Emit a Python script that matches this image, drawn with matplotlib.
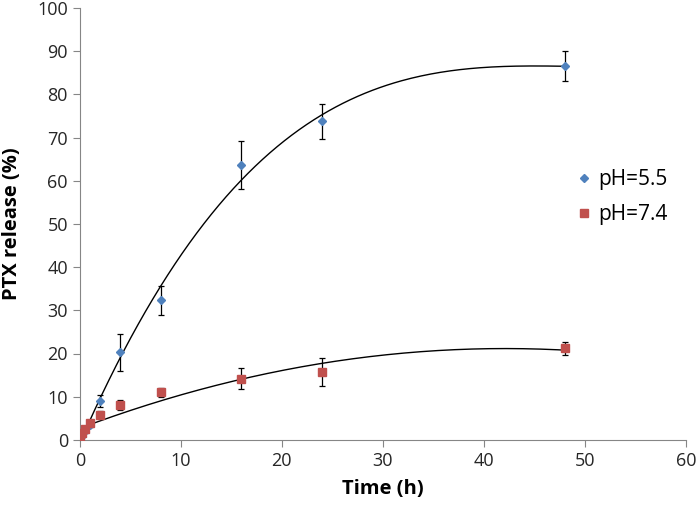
import numpy as np
import matplotlib.pyplot as plt

plt.rcParams["font.family"] = ["Open Sans", "DejaVu Sans"]

time_h = [0, 0.25, 0.5, 1, 2, 4, 8, 16, 24, 48]
ph55 = [0.3, 1.0, 2.0, 3.5, 9.0, 20.3, 32.3, 63.7, 73.8, 86.6]
ph55_err = [0.3, 0.3, 0.4, 0.5, 1.5, 4.3, 3.3, 5.5, 4.1, 3.4]
ph74 = [0.5, 1.5, 2.5, 3.8, 5.8, 8.0, 11.0, 14.2, 15.7, 21.2]
ph74_err = [0.3, 0.3, 0.4, 0.5, 0.8, 1.2, 1.0, 2.4, 3.3, 1.5]

fig = plt.figure(figsize=(7, 5.05), dpi=100)
ax = fig.add_axes([0.114, 0.129, 0.866, 0.855])

grey = "#868686"
# polynomial trendlines: order 3 for pH 5.5, order 2 for pH 7.4
for y, err, color, marker, ms, label, order in [
    (ph55, ph55_err, "#4F81BD", "D", 4, "pH=5.5", 3),
    (ph74, ph74_err, "#C0504D", "s", 6, "pH=7.4", 2),
]:
    ax.errorbar(time_h, y, yerr=err, fmt="none", ecolor="black", elinewidth=0.9,
                capsize=2.5, capthick=0.9, zorder=2)
    ax.plot(time_h, y, linestyle="none", marker=marker, markersize=ms, color=color,
            label=label, zorder=3)
    coef = np.polyfit(time_h, y, order)
    xs = np.linspace(0, 48, 200)
    ax.plot(xs, np.polyval(coef, xs), color="black", linewidth=1.0, zorder=2)

ax.set_xlim(0, 60)
ax.set_ylim(0, 100)
ax.set_xticks(range(0, 61, 10))
ax.set_yticks(range(0, 101, 10))
ax.set_xlabel("Time (h)", fontsize=14.5, fontweight="bold", labelpad=7)
ax.set_ylabel("PTX release (%)", fontsize=14.5, fontweight="bold", labelpad=11)
ax.tick_params(labelsize=13, color=grey, direction="out", length=5, labelcolor="#262626")
for side in ["top", "right"]:
    ax.spines[side].set_visible(False)
for side in ["left", "bottom"]:
    ax.spines[side].set_color(grey)

ax.legend(loc="center left", bbox_to_anchor=(0.78, 0.562), frameon=False, fontsize=15,
          handletextpad=0.1, labelspacing=0.65, handlelength=1.2)

fig.savefig("out.png")
